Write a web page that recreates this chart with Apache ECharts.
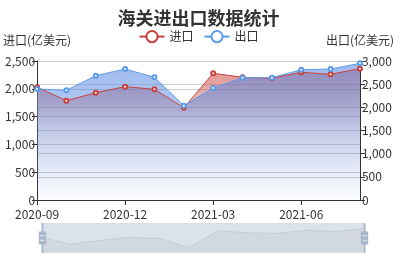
<!DOCTYPE html>
<html><head><meta charset="utf-8">
<script src="https://cdn.jsdelivr.net/npm/echarts@6/dist/echarts.min.js"></script>
<style>html,body{margin:0;padding:0;background:#fff}#c{width:397px;height:262px}</style>
</head><body><div id="c"></div>
<script>
var months = ['2020-09','2020-10','2020-11','2020-12','2021-01','2021-02','2021-03','2021-04','2021-05','2021-06','2021-07','2021-08'];
var imports = [2028, 1786, 1930, 2038, 1991, 1660, 2279, 2207, 2189, 2297, 2261, 2362];
var exports = [2396, 2368, 2683, 2827, 2648, 2035, 2417, 2640, 2640, 2812, 2827, 2950];
var leftTicks = {min: 0, max: 2500, interval: 500};
var rightTicks = {min: 0, max: 3000, interval: 500};

var FONT = '"Microsoft YaHei","Noto Sans CJK SC",sans-serif';
var chart = echarts.init(document.getElementById('c'));
function grad(r,g,b,stops){
  return new echarts.graphic.LinearGradient(0,0,0,1,stops.map(function(s){
    return {offset:s[0],color:'rgba('+r+','+g+','+b+','+s[1]+')'};
  }));
}
var axisCol = '#333';
chart.setOption({
  animation:false,
  textStyle:{fontFamily:FONT},
  color:['#c23531','#5b9bea'],
  title:{text:'海关进出口数据统计',left:'center',top:4,textStyle:{fontSize:18,fontWeight:'bold',color:'#333',fontFamily:FONT}},
  legend:{top:25,itemWidth:25,itemHeight:14,itemGap:10,textStyle:{fontSize:12,color:'#333',fontFamily:FONT},data:['进口','出口']},
  grid:{left:36,right:36,top:61,bottom:62},
  xAxis:{type:'category',data:months,boundaryGap:false,
    axisLine:{lineStyle:{color:axisCol}},
    axisTick:{interval:2,lineStyle:{color:axisCol}},
    axisLabel:{interval:2,color:axisCol,fontSize:12,margin:8,fontFamily:FONT}},
  yAxis:[
    {type:'value',name:'进口(亿美元)',min:leftTicks.min,max:leftTicks.max,interval:leftTicks.interval,
     nameGap:15,nameTextStyle:{color:axisCol,fontSize:12,fontFamily:FONT},
     axisLine:{show:true,lineStyle:{color:axisCol}},axisTick:{show:true,lineStyle:{color:axisCol}},
     axisLabel:{color:axisCol,fontSize:12,margin:2,fontFamily:FONT},
     splitLine:{lineStyle:{color:'#d0d0d0'}}},
    {type:'value',name:'出口(亿美元)',min:rightTicks.min,max:rightTicks.max,interval:rightTicks.interval,
     nameGap:15,nameTextStyle:{color:axisCol,fontSize:12,fontFamily:FONT},
     axisLine:{show:true,lineStyle:{color:axisCol}},axisTick:{show:true,lineStyle:{color:axisCol}},
     axisLabel:{color:axisCol,fontSize:12,margin:2,fontFamily:FONT},
     splitLine:{lineStyle:{color:'#d0d0d0'}}}
  ],
  dataZoom:[{type:'slider',xAxisIndex:0,start:0,end:100,left:39,right:34,bottom:9,height:30,
    showDetail:false,brushSelect:false,moveHandleSize:0,
    backgroundColor:'rgba(47,69,84,0)',borderColor:'#ddd',
    fillerColor:'rgba(167,183,204,0.4)',
    handleIcon:'M8.2,13.6V3.9H6.3v9.7H3.1v14.9h3.3v9.7h1.8v-9.7h3.3V13.6H8.2z M9.7,24.4H4.8v-1.4h4.9V24.4z M9.7,19.1H4.8v-1.4h4.9V19.1z',
    handleSize:'100%',handleStyle:{color:'#a7b7cc',borderColor:'#a7b7cc',borderWidth:0},
    dataBackground:{lineStyle:{color:'#2f4554',width:0.5,opacity:0.3},areaStyle:{color:'rgba(47,69,84,0.3)',opacity:0.3}},
    selectedDataBackground:{lineStyle:{color:'#2f4554',width:0.5,opacity:0.3},areaStyle:{color:'rgba(47,69,84,0.3)',opacity:0.3}}
  }],
  series:[
    {name:'进口',type:'line',yAxisIndex:0,data:imports,symbol:'emptyCircle',symbolSize:4,
     lineStyle:{width:1,color:'#c9413d'},itemStyle:{color:'#c9413d'},
     areaStyle:{color:grad(200,60,56,[[0,0.78],[0.2,0.58],[0.45,0.15],[0.75,0.03],[1,0]])}},
    {name:'出口',type:'line',yAxisIndex:1,data:exports,symbol:'emptyCircle',symbolSize:4,
     lineStyle:{width:1,color:'#5b9bea'},itemStyle:{color:'#5b9bea'},
     areaStyle:{color:grad(85,135,225,[[0,0.8],[0.25,0.7],[1,0.02]])}}
  ]
});
</script></body></html>
